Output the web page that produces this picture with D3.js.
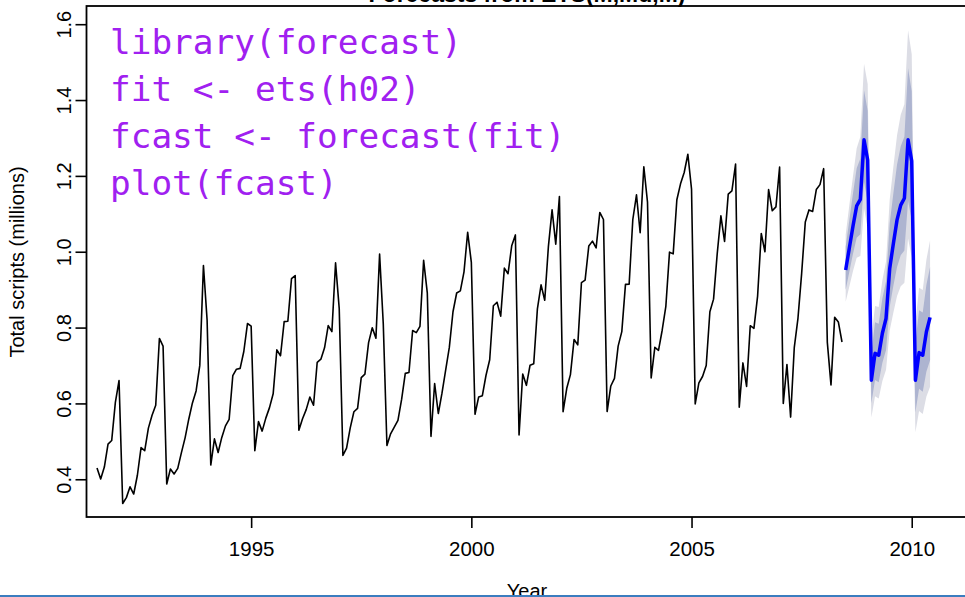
<!DOCTYPE html>
<html>
<head>
<meta charset="utf-8">
<script src="https://cdn.jsdelivr.net/npm/d3@7"></script>
<style>
body { margin: 0; background: #fff; }
svg { display: block; }
</style>
</head>
<body>
<svg width="965" height="597"></svg>
<script>
// monthly scripts, July 1991 to June 2008 (millions)
var startYear = 1991.5;
var h02 = [
  0.4298, 0.4009, 0.4323, 0.4926, 0.5021, 0.6026,
  0.6601, 0.3362, 0.3516, 0.3800, 0.3611, 0.4106, 0.4834, 0.4754, 0.5348, 0.5686, 0.5952, 0.7713,
  0.7512, 0.3875, 0.4270, 0.4139, 0.4287, 0.4703, 0.5092, 0.5584, 0.6013, 0.6330, 0.6996, 0.9636,
  0.8196, 0.4375, 0.5066, 0.4707, 0.5104, 0.5408, 0.5577, 0.6731, 0.6903, 0.6924, 0.7369, 0.8107,
  0.8038, 0.4753, 0.5520, 0.5270, 0.5612, 0.5889, 0.6253, 0.7414, 0.7257, 0.8156, 0.8167, 0.9292,
  0.9372, 0.5291, 0.5597, 0.5837, 0.6167, 0.5952, 0.7085, 0.7167, 0.7465, 0.8052, 0.7892, 0.9705,
  0.8500, 0.4630, 0.4824, 0.5356, 0.5780, 0.5868, 0.6682, 0.6773, 0.7602, 0.7995, 0.7722, 0.9936,
  0.8109, 0.4890, 0.5200, 0.5376, 0.5552, 0.6106, 0.6793, 0.6814, 0.7923, 0.7867, 0.8034, 0.9772,
  0.8913, 0.5132, 0.6526, 0.5734, 0.6269, 0.6881, 0.7476, 0.8418, 0.8912, 0.8969, 0.9470, 1.0513,
  0.9717, 0.5714, 0.6172, 0.6203, 0.6743, 0.7153, 0.8575, 0.8669, 0.8302, 0.9568, 0.9420, 1.0156,
  1.0444, 0.5166, 0.6776, 0.6477, 0.7008, 0.7045, 0.8494, 0.9126, 0.8720, 1.0140, 1.1105, 1.0200,
  1.1453, 0.5782, 0.6400, 0.6760, 0.7687, 0.7543, 0.9183, 0.9250, 1.0150, 1.0280, 1.0100, 1.1035,
  1.0850, 0.5786, 0.6460, 0.6660, 0.7510, 0.7894, 0.9140, 0.9142, 1.0850, 1.1500, 1.0500, 1.2240,
  1.1310, 0.6670, 0.7480, 0.7400, 0.7930, 0.8560, 0.9989, 0.9944, 1.1370, 1.1790, 1.2090, 1.2570,
  1.1650, 0.5986, 0.6540, 0.6710, 0.7000, 0.8419, 0.8750, 0.9951, 1.0946, 1.0270, 1.1520, 1.1605,
  1.2310, 0.5901, 0.7068, 0.6450, 0.8050, 0.7980, 0.8830, 1.0480, 1.0000, 1.1640, 1.1080, 1.1184,
  1.2230, 0.6000, 0.7028, 0.5640, 0.7480, 0.8245, 0.9424, 1.0786, 1.1103, 1.1062, 1.1640, 1.1770,
  1.2190, 0.7610, 0.6490, 0.8270, 0.8150, 0.7620
];

// ETS(M,Md,M) forecasts, July 2008 to June 2010
var fcStart = 2008.5;
var fcMean = [0.952, 1.010, 1.068, 1.121, 1.138, 1.295, 1.242, 0.661, 0.732, 0.727, 0.785, 0.824,
              0.956, 1.022, 1.084, 1.123, 1.141, 1.295, 1.239, 0.661, 0.734, 0.727, 0.789, 0.827];
var lo80 = [0.900, 0.947, 0.995, 1.037, 1.046, 1.184, 1.131, 0.601, 0.662, 0.656, 0.707, 0.741,
            0.855, 0.910, 0.960, 0.991, 1.003, 1.134, 1.083, 0.577, 0.639, 0.631, 0.684, 0.714];
var hi80 = [1.013, 1.084, 1.154, 1.220, 1.246, 1.426, 1.372, 0.732, 0.814, 0.810, 0.877, 0.922,
            1.075, 1.154, 1.230, 1.278, 1.303, 1.484, 1.423, 0.760, 0.846, 0.840, 0.913, 0.960];
var lo95 = [0.868, 0.908, 0.949, 0.984, 0.989, 1.114, 1.062, 0.563, 0.619, 0.613, 0.659, 0.689,
            0.792, 0.840, 0.883, 0.909, 0.918, 1.035, 0.985, 0.524, 0.580, 0.572, 0.618, 0.644];
var hi95 = [1.045, 1.123, 1.200, 1.273, 1.303, 1.496, 1.442, 0.770, 0.857, 0.854, 0.925, 0.974,
            1.138, 1.224, 1.307, 1.361, 1.389, 1.584, 1.521, 0.813, 0.905, 0.899, 0.979, 1.030];

var yTicks = [0.4, 0.6, 0.8, 1.0, 1.2, 1.4, 1.6];
var xTicks = [1995, 2000, 2005, 2010];
var codeLines = ['library(forecast)', 'fit <- ets(h02)', 'fcast <- forecast(fit)', 'plot(fcast)'];

var svg = d3.select('svg');

var scaleX = d3.scaleLinear().domain([1991.25, 2011.8]).range([86, 991]);
var scaleY = d3.scaleLinear().domain([0.3005, 1.648]).range([517, 6]);

var obs = h02.map(function (v, i) { return { t: startYear + i / 12, v: v }; });
var fc = fcMean.map(function (v, i) {
    return { t: fcStart + i / 12, v: v, lo80: lo80[i], hi80: hi80[i], lo95: lo95[i], hi95: hi95[i] };
});

var plotArea = svg.append('g');

// prediction intervals
plotArea.append('path')
    .datum(fc)
    .attr('fill', '#dcdde5')
    .attr('d', d3.area()
        .x(function (d) { return scaleX(d.t); })
        .y0(function (d) { return scaleY(d.lo95); })
        .y1(function (d) { return scaleY(d.hi95); }));

plotArea.append('path')
    .datum(fc)
    .attr('fill', '#adb4d0')
    .attr('d', d3.area()
        .x(function (d) { return scaleX(d.t); })
        .y0(function (d) { return scaleY(d.lo80); })
        .y1(function (d) { return scaleY(d.hi80); }));

plotArea.append('path')
    .datum(obs)
    .attr('fill', 'none')
    .attr('stroke', '#000')
    .attr('stroke-width', 1.6)
    .attr('stroke-linejoin', 'round')
    .attr('d', d3.line()
        .x(function (d) { return scaleX(d.t); })
        .y(function (d) { return scaleY(d.v); }));

plotArea.append('path')
    .datum(fc)
    .attr('fill', 'none')
    .attr('stroke', '#0000ff')
    .attr('stroke-width', 3.5)
    .attr('stroke-linejoin', 'round')
    .attr('d', d3.line()
        .x(function (d) { return scaleX(d.t); })
        .y(function (d) { return scaleY(d.v); }));

// box
svg.append('rect')
    .attr('x', 86.5)
    .attr('y', 6)
    .attr('width', 920)
    .attr('height', 511)
    .attr('fill', 'none')
    .attr('stroke', '#000')
    .attr('stroke-width', 1.8);

// axes
var yAxis = svg.append('g')
    .attr('transform', 'translate(86.5,0)')
    .call(d3.axisLeft(scaleY).tickValues(yTicks).tickSize(11).tickFormat(d3.format('.1f')));
yAxis.select('.domain').remove();
yAxis.selectAll('line').attr('stroke-width', 1.6);
yAxis.selectAll('text')
    .attr('transform', 'rotate(-90)')
    .attr('x', 0)
    .attr('y', -16)
    .attr('dy', 0)
    .style('text-anchor', 'middle')
    .style('font-family', 'Liberation Sans, Arial, sans-serif')
    .style('font-size', '20px')
    .attr('fill', '#000');

var xAxis = svg.append('g')
    .attr('transform', 'translate(0,517)')
    .call(d3.axisBottom(scaleX).tickValues(xTicks).tickSize(11).tickFormat(d3.format('d')));
xAxis.select('.domain').remove();
xAxis.selectAll('line').attr('stroke-width', 1.6);
xAxis.selectAll('text')
    .attr('y', 39)
    .attr('dy', 0)
    .style('font-family', 'Liberation Sans, Arial, sans-serif')
    .style('font-size', '20.5px')
    .attr('fill', '#000');

// titles
svg.append('text')
    .text('Forecasts from ETS(M,Md,M)')
    .attr('x', 527)
    .attr('y', 2)
    .style('text-anchor', 'middle')
    .style('font-family', 'Liberation Sans, Arial, sans-serif')
    .style('font-weight', 'bold')
    .style('font-size', '23px');

svg.append('text')
    .text('Year')
    .attr('x', 527)
    .attr('y', 598)
    .style('text-anchor', 'middle')
    .style('font-family', 'Liberation Sans, Arial, sans-serif')
    .style('font-size', '20px');

svg.append('text')
    .text('Total scripts (millions)')
    .attr('transform', 'translate(24,262)rotate(-90)')
    .style('text-anchor', 'middle')
    .style('font-family', 'Liberation Sans, Arial, sans-serif')
    .style('font-size', '20px');

// code overlay
svg.selectAll('.code')
    .data(codeLines)
    .enter()
    .append('text')
    .attr('class', 'code')
    .text(function (d) { return d; })
    .attr('x', 110)
    .attr('y', function (d, i) { return 53.5 + i * 47.3; })
    .attr('fill', '#a020f0')
    .style('font-family', 'DejaVu Sans Mono, monospace')
    .style('font-size', '34.4px')
    .style('white-space', 'pre');

// slide edge
svg.append('line')
    .attr('x1', 0)
    .attr('x2', 965)
    .attr('y1', 596)
    .attr('y2', 596)
    .attr('stroke', '#3b7dbf')
    .attr('stroke-width', 2);
</script>
</body>
</html>
